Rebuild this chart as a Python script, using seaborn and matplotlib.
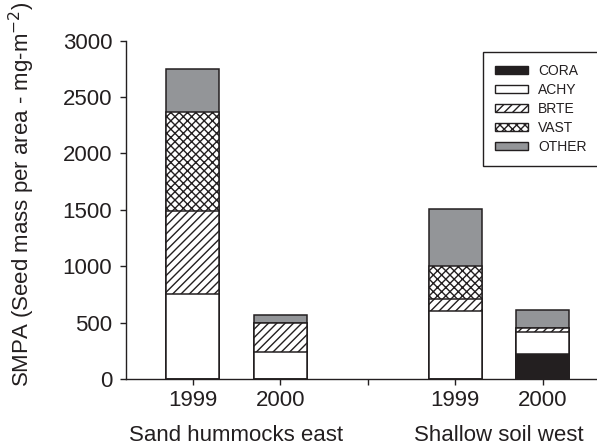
import matplotlib
matplotlib.use("Agg")
import matplotlib.pyplot as plt
from matplotlib.patches import Patch
import pandas as pd
import seaborn as sns

# ---- data ----
bar_keys = ["S1999", "S2000", "gap", "W1999", "W2000"]
year_labels = ["1999", "2000", "", "1999", "2000"]
bars = ["S1999", "S2000", "W1999", "W2000"]
site_names = ["Sand hummocks east", "Shallow soil west"]
species = ["CORA", "ACHY", "BRTE", "VAST", "OTHER"]
cora = [0, 0, 0, 225]
achy = [750, 235, 600, 190]
brte = [740, 262, 110, 38]
vast = [880, 0, 290, 0]
other = [380, 72, 505, 160]

# ---- style ----
sns.set_style("ticks")
ink = "#231f20"
plt.rcParams["font.family"] = ["Liberation Sans", "DejaVu Sans"]
plt.rcParams["hatch.linewidth"] = 1.0
plt.rcParams["hatch.color"] = ink
plt.rcParams["text.color"] = ink
plt.rcParams["axes.labelcolor"] = ink
plt.rcParams["xtick.color"] = ink
plt.rcParams["ytick.color"] = ink

styles = {
    "CORA": dict(color=ink, hatch=None),
    "ACHY": dict(color="white", hatch=None),
    "BRTE": dict(color="white", hatch="////"),
    "VAST": dict(color="white", hatch="xxxx"),
    "OTHER": dict(color="#939598", hatch=None),
}

df = pd.DataFrame({"bar": bars, "CORA": cora, "ACHY": achy, "BRTE": brte,
                   "VAST": vast, "OTHER": other})
cum = df.copy()
cum[species] = df[species].cumsum(axis=1)

fig = plt.figure(figsize=(5.97, 4.48), dpi=100)
ax = fig.add_axes([126 / 597, 1 - 379 / 448, 1 - 126 / 597, (379 - 40.7) / 448])

for sp in reversed(species):
    st = styles[sp]
    kw = {}
    if st["hatch"]:
        kw["hatch"] = st["hatch"]
    sns.barplot(data=cum, x="bar", y=sp, order=bar_keys, color=st["color"],
                saturation=1, errorbar=None, width=0.61, edgecolor=ink,
                linewidth=1.1, ax=ax, **kw)

ax.set_xlim(-0.762, 4.62)
ax.set_ylim(0, 3000)
ax.set_yticks(range(0, 3001, 500))
ax.set_xticks(range(len(bar_keys)))
ax.set_xticklabels(year_labels)
ax.set_xlabel("")
ax.set_ylabel("SMPA (Seed mass per area - mg-m$^{-2}$)", fontsize=16)
ax.yaxis.set_label_coords(-0.19, 0.547)
ax.tick_params(axis="both", labelsize=16, length=4, width=1.0, direction="out")
ax.tick_params(axis="y", pad=6)
ax.tick_params(axis="x", pad=4)
for s in ["top", "right"]:
    ax.spines[s].set_visible(False)
for s in ["left", "bottom"]:
    ax.spines[s].set_color(ink)
    ax.spines[s].set_linewidth(1.0)

for i, name in enumerate(site_names):
    xc = 0.5 if i == 0 else 3.5
    ax.text(xc, -0.168, name, transform=ax.get_xaxis_transform(),
            ha="center", va="center", fontsize=16)

handles = [Patch(facecolor=styles[sp]["color"], edgecolor=ink,
                 hatch=styles[sp]["hatch"], linewidth=1.0, label=sp)
           for sp in species]
leg = ax.legend(handles=handles, loc="upper left",
                bbox_to_anchor=(483 / 597, 1 - 52 / 448),
                bbox_transform=fig.transFigure, fontsize=10, frameon=True,
                fancybox=False, edgecolor=ink, framealpha=1,
                borderpad=0.85, labelspacing=0.36, handlelength=2.4,
                handleheight=0.5, handletextpad=0.72, borderaxespad=0)
leg.get_frame().set_linewidth(1.0)

fig.savefig("out.png", dpi=100)
